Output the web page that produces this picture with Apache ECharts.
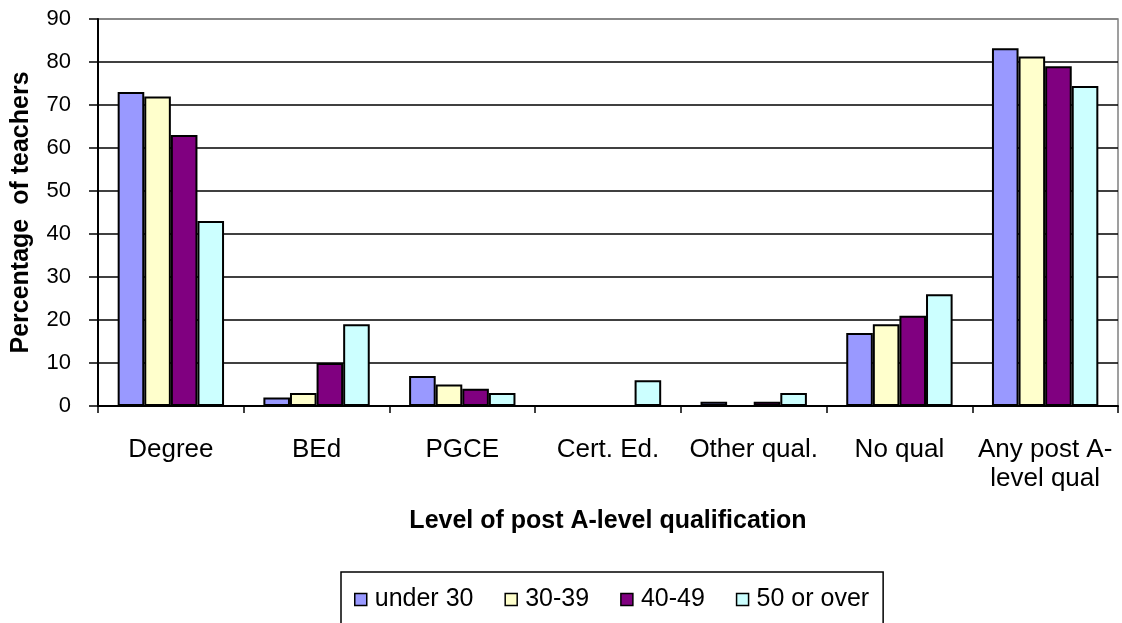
<!DOCTYPE html>
<html><head><meta charset="utf-8">
<script src="https://cdn.jsdelivr.net/npm/echarts@6/dist/echarts.min.js"></script>
<style>html,body{margin:0;padding:0;background:#fff}#c{width:1122px;height:623px}</style>
</head><body><div id="c"></div>
<script>
var categories = ['Degree','BEd','PGCE','Cert. Ed.','Other qual.','No qual','Any post A-\nlevel qual'];
var under30 = [73, 2, 7, 0, 1, 17, 83.2];
var s30_39 = [72, 3, 5, 0, 0, 19, 81.3];
var s40_49 = [63, 10, 4, 0, 1, 21, 79];
var s50over = [43, 19, 3, 6, 3, 26, 74.4];
var seriesNames = ['under 30','30-39','40-49','50 or over'];
var colors = ['#9999ff','#ffffcc','#800080','#ccffff'];

var font = 'Liberation Sans, Arial, sans-serif';
var data = [under30, s30_39, s40_49, s50over];
var series = data.map(function(d,i){
  return {name: seriesNames[i], type:'bar', data:d, barGap:'0%', barCategoryGap:'27%',
    itemStyle:{color:colors[i], borderColor:'#000', borderWidth:2}};
});
var chart = echarts.init(document.getElementById('c'));
chart.setOption({
  animation:false,
  textStyle:{fontFamily:font},
  grid:{left:98, right:4, top:19, bottom:217, show:true, borderColor:'#808080', borderWidth:1.5, backgroundColor:'transparent'},
  legend:{top:572, left:341, itemWidth:12, itemHeight:12, itemGap:31,
    padding:[15,14,20,13], borderColor:'#000', borderWidth:1.5,
    textStyle:{fontSize:25, color:'#000', fontFamily:font, padding:[0,0,0,3]}, icon:'rect',
    itemStyle:{borderColor:'#000', borderWidth:1.5},
    data:seriesNames},
  xAxis:{type:'category', data:categories,
    name:'Level of post A-level qualification', nameLocation:'middle', nameGap:103,
    nameTextStyle:{fontSize:25, fontWeight:'bold', color:'#000', fontFamily:font},
    axisLine:{lineStyle:{color:'#000', width:2}},
    axisTick:{show:true, length:7, lineStyle:{color:'#000', width:1.5}, alignWithLabel:false},
    axisLabel:{fontSize:26, color:'#000', margin:29, lineHeight:29, interval:0, fontFamily:font}},
  yAxis:{type:'value', min:0, max:90, interval:10,
    name:'Percentage  of teachers', nameLocation:'middle', nameGap:64,
    nameTextStyle:{fontSize:25, fontWeight:'bold', color:'#000', fontFamily:font},
    axisLine:{show:true, lineStyle:{color:'#000', width:2}},
    axisTick:{show:true, length:9, lineStyle:{color:'#000', width:1.5}},
    axisLabel:{fontSize:22, color:'#000', margin:27, fontFamily:font},
    splitLine:{lineStyle:{color:['#000','#000','#000','#000','#000','#000','#000','#000','#000','#808080'], width:1.5}}},
  series: series
});
</script></body></html>
